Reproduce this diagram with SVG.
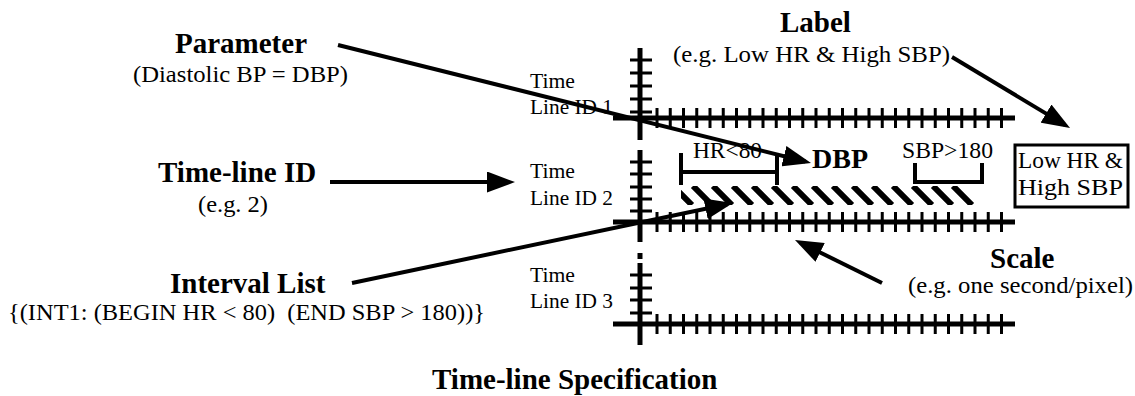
<svg xmlns="http://www.w3.org/2000/svg" xmlns:xlink="http://www.w3.org/1999/xlink" width="1135" height="396" viewBox="0 0 1135 396">
  <style>
    .head { font-family: "Liberation Serif", "Times New Roman", serif; font-weight: bold; font-size: 29px; fill: #000; }
    .sub { font-family: "Liberation Serif", "Times New Roman", serif; font-size: 23px; fill: #000; }
    .small { font-family: "Liberation Serif", "Times New Roman", serif; font-size: 21px; fill: #000; }
    .axis { stroke: #000; stroke-width: 5; fill: none; }
    .tick { stroke: #000; stroke-width: 3; fill: none; }
    .bracket { stroke: #000; stroke-width: 4; fill: none; }
    .arrow { stroke: #000; stroke-width: 4; fill: none; marker-end: url(#head); }
    .hatch { stroke: #000; stroke-width: 6; }
  </style>
  <defs>
    <marker id="head" viewBox="0 0 28 21" refX="22" refY="10.5" markerWidth="28" markerHeight="21" markerUnits="userSpaceOnUse" orient="auto">
      <path d="M0 0 L28 10.5 L0 21 Z" fill="#000"/>
    </marker>
    <!-- scale ticks along a horizontal time axis, drawn around y = 0 -->
    <path id="scaleTicks" class="tick" d="M657 -10V10 M670.25 -10V10 M683.5 -10V10 M696.75 -10V10 M710 -10V10 M723.25 -10V10 M736.5 -10V10 M749.75 -10V10 M763 -10V10 M776.25 -10V10 M789.5 -10V10 M802.75 -10V10 M816 -10V10 M829.25 -10V10 M842.5 -10V10 M855.75 -10V10 M869 -10V10 M882.25 -10V10 M895.5 -10V10 M908.75 -10V10 M922 -10V10 M935.25 -10V10 M948.5 -10V10 M961.75 -10V10 M975 -10V10 M988.25 -10V10 M1001.5 -10V10"/>
    <clipPath id="bandClip">
      <polygon points="681,186 965,186 985,205 681,205"/>
    </clipPath>
  </defs>

  <!-- time line 1 -->
  <g id="timeline1">
    <line class="axis" x1="640" y1="48" x2="640" y2="140"/>
    <path class="tick" d="M630 60H652 M630 73H652 M630 86H652 M630 99H652 M630 112H652"/>
    <line class="axis" x1="613" y1="118" x2="1015" y2="118"/>
    <use xlink:href="#scaleTicks" transform="translate(0,118)"/>
    <text class="small" x="530" y="88" textLength="45" lengthAdjust="spacingAndGlyphs">Time</text>
    <text class="small" x="530" y="114" textLength="83" lengthAdjust="spacingAndGlyphs">Line ID 1</text>
  </g>

  <!-- time line 2 -->
  <g id="timeline2">
    <line class="axis" x1="640" y1="150" x2="640" y2="242"/>
    <path class="tick" d="M630 162H652 M630 174H652 M630 187H652 M630 199H652 M630 211H652"/>
    <line class="axis" x1="613" y1="222" x2="1015" y2="222"/>
    <use xlink:href="#scaleTicks" transform="translate(0,222)"/>
    <text class="small" x="530" y="178" textLength="45" lengthAdjust="spacingAndGlyphs">Time</text>
    <text class="small" x="530" y="205" textLength="83" lengthAdjust="spacingAndGlyphs">Line ID 2</text>
  </g>

  <line class="axis" x1="640" y1="253" x2="640" y2="259"/>

  <!-- time line 3 -->
  <g id="timeline3">
    <line class="axis" x1="640" y1="263" x2="640" y2="345"/>
    <path class="tick" d="M630 275H652 M630 288H652 M630 300H652 M630 313H652"/>
    <line class="axis" x1="613" y1="324" x2="1015" y2="324"/>
    <use xlink:href="#scaleTicks" transform="translate(0,324)"/>
    <text class="small" x="530" y="282" textLength="45" lengthAdjust="spacingAndGlyphs">Time</text>
    <text class="small" x="530" y="308" textLength="83" lengthAdjust="spacingAndGlyphs">Line ID 3</text>
  </g>

  <!-- interval on time line 2 -->
  <g id="interval">
    <g clip-path="url(#bandClip)">
      <path class="hatch" d="M653 186l19 19 M673 186l19 19 M693 186l19 19 M713 186l19 19 M733 186l19 19 M753 186l19 19 M773 186l19 19 M793 186l19 19 M813 186l19 19 M833 186l19 19 M853 186l19 19 M873 186l19 19 M893 186l19 19 M913 186l19 19 M933 186l19 19 M953 186l19 19 M973 186l19 19"/>
    </g>
    <path class="bracket" d="M681 153V185 M681 172H777 M777 153V185"/>
    <text class="sub" x="693" y="158" textLength="69" lengthAdjust="spacingAndGlyphs">HR&lt;80</text>
    <path class="bracket" d="M915 163V182H982 M982 163V184"/>
    <text class="sub" x="902" y="158" textLength="91" lengthAdjust="spacingAndGlyphs">SBP&gt;180</text>
    <text class="head" x="812" y="168" style="font-size:28px">DBP</text>
  </g>

  <!-- label box -->
  <g id="labelBox">
    <rect x="1015" y="145" width="113" height="62" fill="#fff" stroke="#000" stroke-width="3"/>
    <text class="sub" x="1018" y="168" textLength="105" lengthAdjust="spacingAndGlyphs">Low HR &amp;</text>
    <text class="sub" x="1018" y="195" textLength="105" lengthAdjust="spacingAndGlyphs">High SBP</text>
  </g>

  <!-- callouts -->
  <g id="parameter">
    <text class="head" x="175" y="53">Parameter</text>
    <text class="sub" x="133" y="82" textLength="215" lengthAdjust="spacingAndGlyphs">(Diastolic BP = DBP)</text>
  </g>
  <g id="label">
    <text class="head" x="780" y="32">Label</text>
    <text class="sub" x="673" y="62" textLength="277" lengthAdjust="spacingAndGlyphs">(e.g. Low HR &amp; High SBP)</text>
  </g>
  <g id="timelineId">
    <text class="head" x="158" y="182">Time-line ID</text>
    <text class="sub" x="198" y="212" textLength="70" lengthAdjust="spacingAndGlyphs">(e.g. 2)</text>
  </g>
  <g id="intervalList">
    <text class="head" x="170" y="293">Interval List</text>
    <text class="sub" x="8" y="320" textLength="477" lengthAdjust="spacingAndGlyphs" xml:space="preserve">{(INT1: (BEGIN HR &lt; 80)  (END SBP &gt; 180))}</text>
  </g>
  <g id="scale">
    <text class="head" x="990" y="268">Scale</text>
    <text class="sub" x="908" y="293" textLength="225" lengthAdjust="spacingAndGlyphs">(e.g. one second/pixel)</text>
  </g>

  <!-- connectors -->
  <g id="connectors">
    <line class="arrow" x1="338" y1="45" x2="805.2" y2="161.5"/>
    <line class="arrow" x1="952" y1="57" x2="1064.9" y2="124.9"/>
    <line class="arrow" x1="330" y1="182" x2="509" y2="182"/>
    <line class="arrow" x1="352" y1="283" x2="727.1" y2="204.2"/>
    <line class="arrow" x1="882" y1="283" x2="800.4" y2="242.7"/>
  </g>

  <text class="head" x="432" y="389">Time-line Specification</text>
</svg>
